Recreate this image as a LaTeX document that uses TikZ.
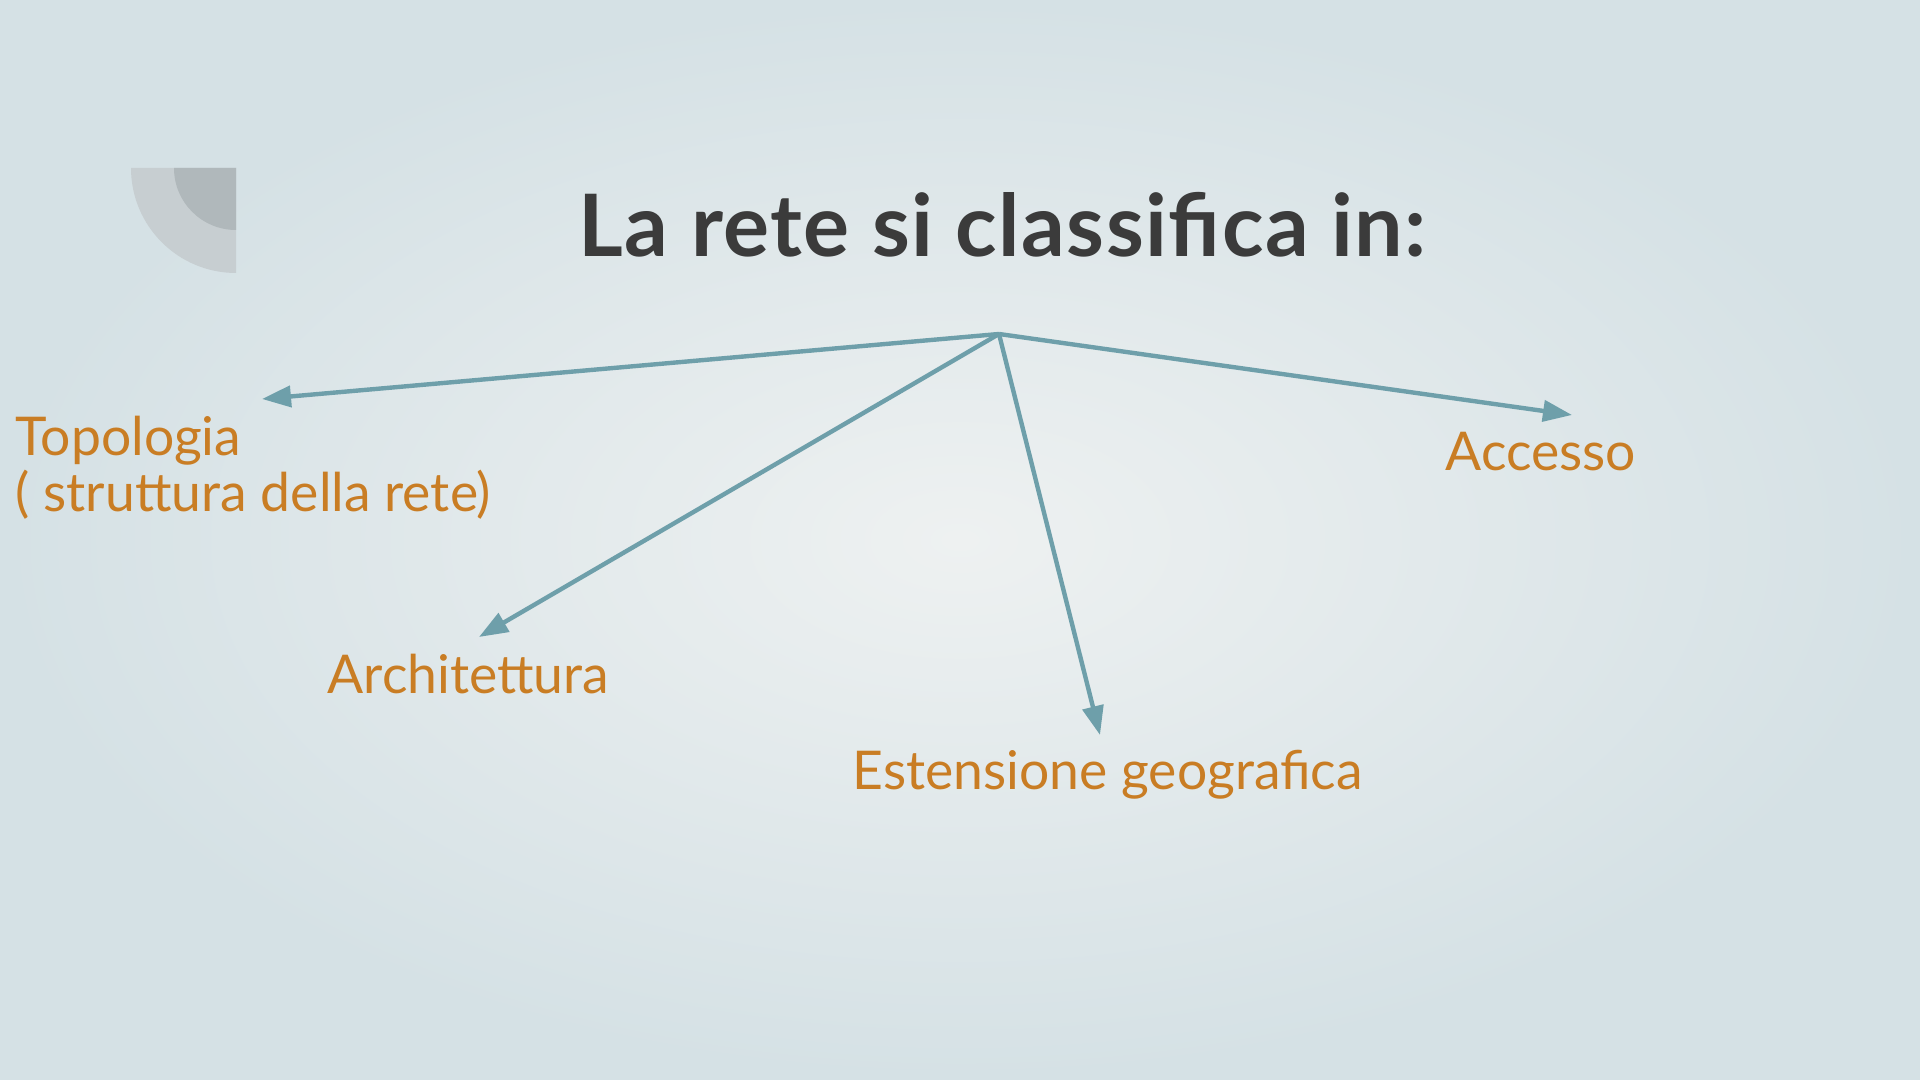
\documentclass[tikz,border=0pt]{standalone}
\usepackage{fontspec}
\setmainfont{Lato}
\usetikzlibrary{arrows.meta}
\definecolor{bgin}{HTML}{EEF1F1}
\definecolor{bgout}{HTML}{D5E1E5}
\definecolor{decolight}{HTML}{C7CED1}
\definecolor{decodark}{HTML}{B0B8BB}
\definecolor{linkcol}{HTML}{6E9FAA}
\definecolor{labelcol}{HTML}{C97D24}
\definecolor{titlecol}{HTML}{3B3B3B}
\tikzset{
  branch/.style={draw=linkcol, line width=1.25pt, -{Triangle[length=0.29cm,width=0.21cm]}},
  label/.style={text=labelcol, inner sep=0pt, anchor=base west,
    font=\fontsize{15.2}{16.2}\selectfont},
  title/.style={text=titlecol, inner sep=0pt, anchor=base west,
    font=\fontsize{24.5}{28}\selectfont\bfseries\addfontfeature{LetterSpace=1.7}}
}
\begin{document}
\begin{tikzpicture}[x=0.01cm,y=-0.01cm]
  \shade[inner color=bgin, outer color=bgout] (0,0) rectangle (1920,1080);
  \useasboundingbox (0,0) rectangle (1920,1080);

  % corner mark
  \fill[decolight] (131,168) arc[start angle=180, end angle=90, radius=105] -- (236,168) -- cycle;
  \fill[decodark] (174,168) arc[start angle=180, end angle=90, radius=62] -- (236,168) -- cycle;

  \node[title] (head) at (578,257) {La rete si classifica in:};

  \coordinate (hub) at (999,334);
  \coordinate (topotip) at (262,399);
  \coordinate (archtip) at (479,637);
  \coordinate (esttip) at (1100,735);
  \coordinate (acctip) at (1572,415);

  \node[label, align=left] (topo) at (15,512) {Topologia\\( struttura della rete)};
  \node[label] (arch) at (327,694) {Architettura};
  \node[label] (est) at (852,790) {Estensione geografica};
  \node[label] (acc) at (1445,471) {Accesso};

  \draw[branch] (hub) -- (topotip);
  \draw[branch] (hub) -- (archtip);
  \draw[branch] (hub) -- (esttip);
  \draw[branch] (hub) -- (acctip);
\end{tikzpicture}
\end{document}
